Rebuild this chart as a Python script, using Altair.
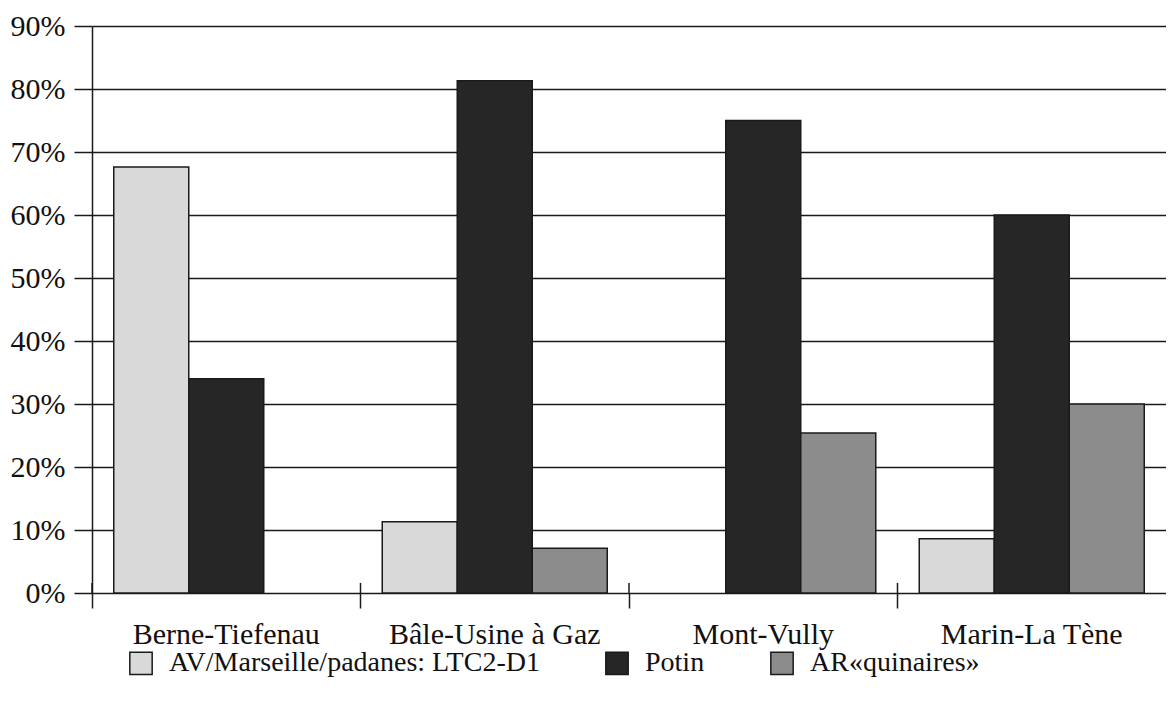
import altair as alt
import pandas as pd

sites = ["Berne-Tiefenau", "Bâle-Usine à Gaz", "Mont-Vully", "Marin-La Tène"]
series = ["AV/Marseille/padanes: LTC2-D1", "Potin", "AR«quinaires»"]
av = [67.6, 11.3, None, 8.6]
potin = [34.0, 81.3, 75.0, 60.0]
ar = [None, 7.1, 25.4, 30.0]
colors = ["#d9d9d9", "#262626", "#8c8c8c"]
y_ticks = [0, 10, 20, 30, 40, 50, 60, 70, 80, 90]

rows = []
for s, vals in zip(series, [av, potin, ar]):
    for site, v in zip(sites, vals):
        if v is not None:
            rows.append({"site": site, "series": s, "value": v})
df = pd.DataFrame(rows)
ticks_df = pd.DataFrame({"site": sites, "y0": [0] * len(sites), "y1": [1.6] * len(sites)})

font = "Liberation Serif"
ink = "#1a1a1a"

bars = alt.Chart(df).mark_bar(stroke=ink, strokeWidth=1.5).encode(
    x=alt.X(
        "site:N", sort=sites,
        scale=alt.Scale(paddingInner=0, paddingOuter=0),
        axis=alt.Axis(title=None, labelAngle=0, bandPosition=0, tickSize=15,
                      tickColor=ink, tickWidth=1.5, labelPadding=11,
                      labelFontSize=30, labelFont=font, labelColor="#111",
                      labelLimit=1000, domain=False, grid=False),
    ),
    xOffset=alt.XOffset("series:N", sort=series,
                        scale=alt.Scale(domain=series, paddingInner=0, paddingOuter=0.29)),
    y=alt.Y(
        "value:Q",
        scale=alt.Scale(domain=[0, 90], nice=False),
        axis=alt.Axis(values=y_ticks, title=None, labelExpr="datum.value + '%'",
                      tickSize=18, tickColor=ink, tickWidth=1.5, labelPadding=9,
                      labelFontSize=30, labelFont=font, labelColor="#111",
                      domainColor=ink, domainWidth=1.5,
                      grid=True, gridColor=ink, gridWidth=1.5),
    ),
    color=alt.Color(
        "series:N", sort=series,
        scale=alt.Scale(domain=series, range=colors),
        legend=alt.Legend(title=None, orient="none", legendX=35, legendY=623,
                          direction="horizontal", symbolType="square",
                          symbolSize=500, symbolStrokeColor=ink, symbolStrokeWidth=1.5,
                          symbolOpacity=1,
                          labelFont=font, labelFontSize=28, labelColor="#111",
                          labelOffset=14, columnPadding=62, labelLimit=1000),
    ),
)

up_ticks = alt.Chart(ticks_df).mark_rule(color=ink, strokeWidth=1.5).encode(
    x=alt.X("site:N", sort=sites, bandPosition=0),
    y=alt.Y("y0:Q"),
    y2="y1:Q",
)

chart = alt.layer(bars, up_ticks).properties(
    width=1074, height=567,
    autosize=alt.AutoSizeParams(type="none"),
    padding={"left": 84, "top": 18, "right": 0, "bottom": 100},
).configure_view(stroke=None).configure(background="white")

chart.save("out.html", embed_options={"renderer": "svg", "actions": False})
